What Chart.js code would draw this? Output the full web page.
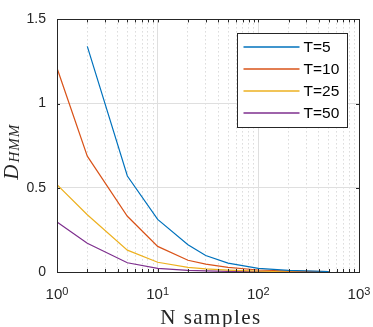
<!DOCTYPE html>
<html>
<head>
<meta charset="utf-8">
<script src="https://cdn.jsdelivr.net/npm/chart.js@4.4.1/dist/chart.umd.min.js"></script>
<style>
    html, body { margin: 0; padding: 0; background: #fff; }
    #wrap { width: 373px; height: 327px; }
</style>
</head>
<body>
<div id="wrap"><canvas id="hmmChart" width="373" height="327"></canvas></div>
<script>
// values
var nSamples = [1, 2, 5, 10, 20, 30, 50, 100, 200, 500];
var seriesLabels = ['T=5', 'T=10', 'T=25', 'T=50'];
var dT5  = [null, 1.34, 0.57, 0.312, 0.162, 0.098, 0.053, 0.022, 0.010, 0.003];
var dT10 = [1.211, 0.688, 0.331, 0.152, 0.070, 0.047, 0.028, 0.012, 0.006, 0.002];
var dT25 = [0.519, 0.340, 0.130, 0.058, 0.028, 0.018, 0.011, 0.005, 0.002, 0.001];
var dT50 = [0.297, 0.171, 0.055, 0.021, 0.010, 0.007, 0.004, 0.002, 0.001, 0.0005];
var seriesColors = ['#0072BD', '#D95319', '#EDB120', '#7E2F8E'];

var xMajorTicks = [1, 10, 100, 1000];
var xTickExponents = ['0', '1', '2', '3'];
var xMinorTicks = [2, 3, 4, 5, 6, 7, 8, 9, 20, 30, 40, 50, 60, 70, 80, 90, 200, 300, 400, 500, 600, 700, 800, 900];
var yTickValues = [0, 0.5, 1, 1.5];

var axisColor = '#262626';
var sansFont = '"Liberation Sans", Arial, Helvetica, sans-serif';
var serifFont = '"Liberation Serif", "Times New Roman", serif';

function toPoints(values) {
    var pts = [];
    values.forEach(function (v, i) {
        if (v !== null) {
            pts.push({ x: nSamples[i], y: v });
        }
    });
    return pts;
}

var allSeries = [dT5, dT10, dT25, dT50];
var datasets = allSeries.map(function (vals, i) {
    return {
        label: seriesLabels[i],
        data: toPoints(vals),
        borderColor: seriesColors[i],
        backgroundColor: seriesColors[i],
        borderWidth: 1.2,
        pointRadius: 0,
        tension: 0,
        fill: false,
        xAxisID: 'x',
        yAxisID: 'y'
    };
});

// box, inward ticks (matlab style)
var boxAxes = {
    id: 'boxAxes',
    afterDatasetsDraw: function (chart) {
        var ctx = chart.ctx, a = chart.chartArea;
        var xs = chart.scales.x, ys = chart.scales.y;
        ctx.save();
        ctx.strokeStyle = axisColor;
        ctx.lineWidth = 1;
        ctx.beginPath();
        xMajorTicks.concat(xMinorTicks).forEach(function (v) {
            var px = Math.round(xs.getPixelForValue(v)) + 0.5;
            ctx.moveTo(px, a.bottom);
            ctx.lineTo(px, a.bottom - 3);
            ctx.moveTo(px, a.top);
            ctx.lineTo(px, a.top + 3);
        });
        yTickValues.forEach(function (v) {
            var py = Math.round(ys.getPixelForValue(v)) + 0.5;
            ctx.moveTo(a.left, py);
            ctx.lineTo(a.left + 3, py);
            ctx.moveTo(a.right, py);
            ctx.lineTo(a.right - 3, py);
        });
        ctx.stroke();
        ctx.strokeRect(Math.round(a.left) + 0.5, Math.round(a.top) + 0.5,
            Math.round(a.right - a.left), Math.round(a.bottom - a.top));
        ctx.restore();
    }
};

// x tick labels with superscripts + axis titles
var axisText = {
    id: 'axisText',
    afterDraw: function (chart) {
        var ctx = chart.ctx, a = chart.chartArea;
        var xs = chart.scales.x;
        ctx.save();
        ctx.fillStyle = axisColor;
        ctx.textBaseline = 'alphabetic';
        ctx.textAlign = 'left';
        xMajorTicks.forEach(function (v, i) {
            var px = xs.getPixelForValue(v);
            ctx.font = '15px ' + sansFont;
            var wBase = ctx.measureText('10').width;
            ctx.font = '11px ' + sansFont;
            var wExp = ctx.measureText(xTickExponents[i]).width;
            var x0 = px - (wBase + wExp) / 2;
            ctx.font = '15px ' + sansFont;
            ctx.fillText('10', x0, a.bottom + 27);
            ctx.font = '11px ' + sansFont;
            ctx.fillText(xTickExponents[i], x0 + wBase, a.bottom + 22.5);
        });

        // x title
        ctx.font = '21px ' + serifFont;
        ctx.letterSpacing = '1.5px';
        ctx.textAlign = 'center';
        ctx.fillText('N samples', (a.left + a.right) / 2 + 3, a.bottom + 52);
        ctx.letterSpacing = '0px';

        // y title: D_HMM
        ctx.translate(17.5, (a.top + a.bottom) / 2 + 34);
        ctx.rotate(-Math.PI / 2);
        ctx.textAlign = 'left';
        ctx.font = 'italic 21px ' + serifFont;
        var wD = ctx.measureText('D').width;
        ctx.fillText('D', 0, 0);
        ctx.font = 'italic 15px ' + serifFont;
        ctx.letterSpacing = '1px';
        ctx.fillText('HMM', wD + 2, 1);
        ctx.restore();
    }
};

var boxLegend = {
    id: 'boxLegend',
    afterDraw: function (chart) {
        var ctx = chart.ctx, a = chart.chartArea;
        var bx = Math.round(a.right - 122) + 0.5;
        var by = Math.round(a.top + 14) + 0.5;
        var bw = 110, bh = 94;
        ctx.save();
        ctx.fillStyle = '#ffffff';
        ctx.fillRect(bx, by, bw, bh);
        ctx.strokeStyle = axisColor;
        ctx.lineWidth = 1;
        ctx.strokeRect(bx, by, bw, bh);
        ctx.font = '15.5px ' + sansFont;
        ctx.textBaseline = 'middle';
        ctx.textAlign = 'left';
        chart.data.datasets.forEach(function (ds, i) {
            var y = Math.round(by + 13 + i * 22);
            ctx.strokeStyle = ds.borderColor;
            ctx.lineWidth = 1.4;
            ctx.beginPath();
            ctx.moveTo(bx + 6, y);
            ctx.lineTo(bx + 62, y);
            ctx.stroke();
            ctx.fillStyle = '#000000';
            ctx.fillText(ds.label, bx + 66, y + 1);
        });
        ctx.restore();
    }
};

var ctx = document.getElementById('hmmChart');
var chart = new Chart(ctx, {
    type: 'line',
    data: { datasets: datasets },
    plugins: [boxAxes, axisText, boxLegend],
    options: {
        responsive: false,
        animation: false,
        devicePixelRatio: 1,
        layout: { padding: { top: 6, right: 14, left: 0, bottom: 0 } },
        plugins: {
            legend: { display: false },
            tooltip: { enabled: false }
        },
        scales: {
            x: {
                type: 'logarithmic',
                position: 'bottom',
                min: 1,
                max: 1000,
                afterBuildTicks: function (scale) {
                    scale.ticks = xMajorTicks.map(function (v) { return { value: v, major: true }; });
                },
                afterFit: function (scale) { scale.height = 55; },
                ticks: { display: false, autoSkip: false },
                grid: { color: '#dfdfdf', lineWidth: 1, drawTicks: false },
                border: { display: false }
            },
            xMinor: {
                type: 'logarithmic',
                position: 'bottom',
                min: 1,
                max: 1000,
                afterBuildTicks: function (scale) {
                    scale.ticks = xMinorTicks.map(function (v) { return { value: v }; });
                },
                afterFit: function (scale) { scale.height = 0; },
                ticks: { display: false, autoSkip: false },
                grid: { color: '#c8c8c8', lineWidth: 1, drawTicks: false },
                border: { display: false, dash: [1, 3] }
            },
            y: {
                type: 'linear',
                min: 0,
                max: 1.5,
                afterBuildTicks: function (scale) {
                    scale.ticks = yTickValues.map(function (v) { return { value: v }; });
                },
                afterFit: function (scale) { scale.width = 57; },
                ticks: {
                    color: axisColor,
                    padding: 11,
                    font: { family: sansFont, size: 14 },
                    callback: function (v) { return String(v); }
                },
                grid: { color: '#dfdfdf', lineWidth: 1, drawTicks: false },
                border: { display: false }
            }
        }
    }
});
</script>
</body>
</html>
